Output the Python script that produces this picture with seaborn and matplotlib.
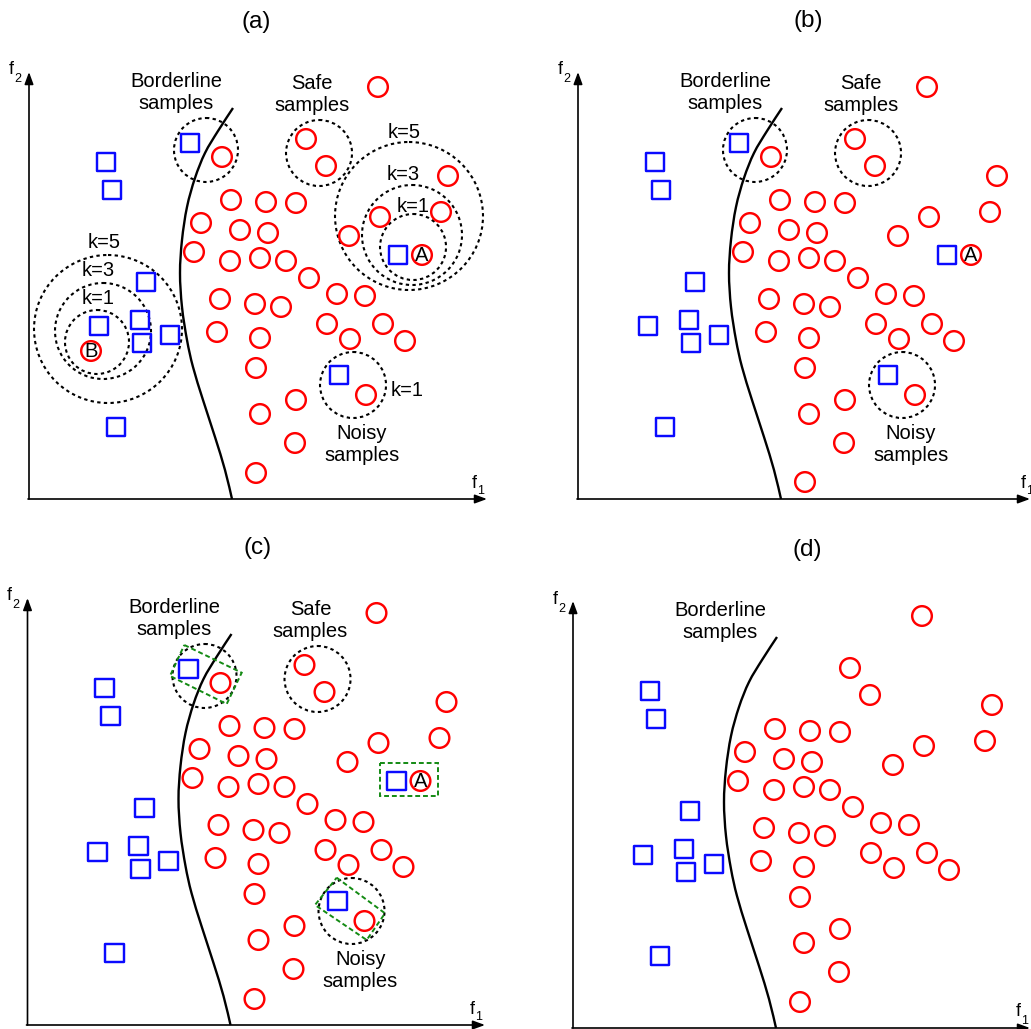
import numpy as np
import pandas as pd
import matplotlib
matplotlib.use("Agg")
import matplotlib.pyplot as plt
import seaborn as sns
from matplotlib.patches import Circle, Polygon, PathPatch
from matplotlib.path import Path

# ---------------- data (panel-local coordinates, pixels, y downward) ----------------
RED_CORE_X = [378, 306, 326, 448, 441, 380, 349, 231, 266, 296, 201, 240, 268, 194, 230, 260, 286,
              309, 337, 365, 220, 255, 281, 327, 383, 350, 405, 217, 260, 256, 296, 260, 295, 256]
RED_CORE_Y = [87, 139, 166, 176, 212, 217, 236, 200, 202, 203, 223, 230, 233, 252, 261, 258, 261,
              278, 294, 296, 299, 304, 307, 324, 324, 339, 341, 332, 338, 368, 400, 414, 443, 473]
BLUE_CORE_X = [106, 112, 146, 99, 140, 142, 170, 116]
BLUE_CORE_Y = [162, 190, 282, 326, 320, 343, 335, 427]

# special samples: borderline pair, A pair, noisy pair
PAIR_NAMES = ["borderline", "A", "noisy"]
PAIR_BLUE_X = [190, 398, 339]
PAIR_BLUE_Y = [143, 255, 375]
PAIR_RED_X = [222, 422, 366]
PAIR_RED_Y = [157, 255, 395]
B_X, B_Y = [91], [351]

# dashed neighbourhood circles
REGION_CX = [206, 319, 353]
REGION_CY = [150, 153, 385]
REGION_R = [32, 33, 33]
KNN_A_CX, KNN_A_CY, KNN_A_R = [409, 412, 413], [216, 235, 247], [74, 50, 33]
KNN_B_CX, KNN_B_CY, KNN_B_R = [108, 103, 97], [329, 331, 342], [74, 48, 32]
K_LABELS = ["k=5", "k=3", "k=1", "k=5", "k=3", "k=1", "k=1"]
K_LABEL_X = [404, 403, 413, 104, 98, 98, 407]
K_LABEL_Y = [132, 175, 206, 243, 271, 299, 391]

# class boundary curve
CURVE_X = [233, 218, 205, 195, 187, 182, 180, 182, 187, 193, 203, 215, 225, 232]
CURVE_Y = [108, 131, 153, 178, 207, 240, 273, 307, 340, 367, 400, 437, 470, 499]

# green selection boxes in panel (c)
GREEN_BOXES = [
    [(185.8, 119), (243.2, 146.7), (228.2, 178), (171.5, 150)],
    [(338.2, 351.7), (386.5, 387.3), (368.2, 414), (316.5, 379)],
    [(381.5, 237), (439.5, 237), (439.5, 270), (381.5, 270)],
]

PANELS = ["a", "b", "c", "d"]
TITLES = ["(a)", "(b)", "(c)", "(d)"]
TITLE_XY = [(256, 22), (808, 21), (258, 548), (807, 550)]
OFFSETS = {"a": (0, 0), "b": (549, 0), "c": (-1.5, 526), "d": (544, 529)}
AXIS_X_END = {"a": 487, "b": 1030, "c": 485, "d": 1030}

# ---------------- style ----------------
sns.set_theme(style="white")
plt.rcParams["font.family"] = ["Liberation Sans", "DejaVu Sans"]
plt.rcParams["text.color"] = "black"

RED = "#ff0000"
BLUE = "#0a0aff"
GREEN = "#138a13"
FS = 14.5

fig = plt.figure(figsize=(10.31, 10.29), dpi=100)
ax = fig.add_axes([0, 0, 1, 1])


def smooth_path(xs, ys, ox, oy):
    pts = np.column_stack([np.asarray(xs, float) + ox, np.asarray(ys, float) + oy])
    verts, codes = [pts[0]], [Path.MOVETO]
    n = len(pts)
    for i in range(n - 1):
        p0 = pts[i - 1] if i > 0 else pts[i]
        p1, p2 = pts[i], pts[i + 1]
        p3 = pts[i + 2] if i + 2 < n else pts[i + 1]
        verts += [p1 + (p2 - p0) / 6, p2 - (p3 - p1) / 6, p2]
        codes += [Path.CURVE4] * 3
    return Path(verts, codes)


red_rows, blue_rows = [], []
for p in PANELS:
    ox, oy = OFFSETS[p]
    for x, y in zip(RED_CORE_X, RED_CORE_Y):
        if p == "b" and y == 473:
            y = 482
        red_rows.append((p, x + ox, y + oy))
    for x, y in zip(BLUE_CORE_X, BLUE_CORE_Y):
        blue_rows.append((p, x + ox, y + oy))
    if p in ("a", "b", "c"):
        for x, y in zip(PAIR_RED_X, PAIR_RED_Y):
            red_rows.append((p, x + ox, y + oy))
        for x, y in zip(PAIR_BLUE_X, PAIR_BLUE_Y):
            blue_rows.append((p, x + ox, y + oy))
    if p == "a":
        for x, y in zip(B_X, B_Y):
            red_rows.append((p, x + ox, y + oy))

red_df = pd.DataFrame(red_rows, columns=["panel", "x", "y"])
blue_df = pd.DataFrame(blue_rows, columns=["panel", "x", "y"])

sns.scatterplot(data=red_df, x="x", y="y", marker="o", s=200, color=RED,
                facecolor="none", edgecolor=RED, linewidth=1.75, ax=ax, zorder=4)
sns.scatterplot(data=blue_df, x="x", y="y", marker="s", s=185, color=BLUE,
                facecolor="none", edgecolor=BLUE, linewidth=1.75, ax=ax, zorder=4)
ax.set_xlim(0, 1031)
ax.set_ylim(1029, 0)
ax.axis("off")

dash = (0, (1.6, 1.6))
for p, title, (tx, ty) in zip(PANELS, TITLES, TITLE_XY):
    ox, oy = OFFSETS[p]
    # title
    ax.text(tx, ty, title, ha="center", va="center", fontsize=17.5)
    # axes with arrows
    x0, y0 = 29 + ox, 499 + oy
    arrow = dict(arrowstyle="-|>,head_length=0.6,head_width=0.22", lw=1.2, color="black",
                 shrinkA=0, shrinkB=0, mutation_scale=12)
    ax.annotate("", xy=(x0, 72 + oy), xytext=(x0, y0), arrowprops=arrow, zorder=3)
    ax.annotate("", xy=(AXIS_X_END[p], y0), xytext=(x0 - 1, y0), arrowprops=arrow, zorder=3)
    ax.text(11 + ox, 70 + oy, "f", ha="center", va="center", fontsize=13)
    ax.text(17.5 + ox, 79.5 + oy, "2", ha="center", va="center", fontsize=9)
    ax.text(474 + ox, 483 + oy, "f", ha="center", va="center", fontsize=13)
    ax.text(480.5 + ox, 491.5 + oy, "1", ha="center", va="center", fontsize=9)
    # boundary curve
    ax.add_patch(PathPatch(smooth_path(CURVE_X, CURVE_Y, ox, oy), fill=False,
                           lw=1.7, ec="black", zorder=3))
    # labels
    ax.text(176 + ox, 92.5 + oy, "Borderline\nsamples", ha="center", va="center",
            fontsize=FS, linespacing=1.25)
    if p in ("a", "b", "c"):
        ax.text(312 + ox, 94.5 + oy, "Safe\nsamples", ha="center", va="center",
                fontsize=FS, linespacing=1.25)
        ax.text(362 + ox, 444.5 + oy, "Noisy\nsamples", ha="center", va="center",
                fontsize=FS, linespacing=1.25)
        for cx, cy, r in zip(REGION_CX, REGION_CY, REGION_R):
            ax.add_patch(Circle((cx + ox, cy + oy), r, fill=False, ec="black",
                                lw=1.5, ls=dash, zorder=2))
        ax.text(PAIR_RED_X[1] + ox, PAIR_RED_Y[1] + oy + 0.5, "A", ha="center",
                va="center", fontsize=FS, zorder=5)
    if p == "a":
        for cx, cy, r in zip(KNN_A_CX + KNN_B_CX, KNN_A_CY + KNN_B_CY, KNN_A_R + KNN_B_R):
            ax.add_patch(Circle((cx + ox, cy + oy), r, fill=False, ec="black",
                                lw=1.5, ls=dash, zorder=2))
        for lab, lx, ly in zip(K_LABELS, K_LABEL_X, K_LABEL_Y):
            ax.text(lx + ox, ly + oy, lab, ha="center", va="center", fontsize=FS)
        ax.text(B_X[0] + ox, B_Y[0] + oy + 0.5, "B", ha="center", va="center",
                fontsize=FS, zorder=5)
    if p == "c":
        for box in GREEN_BOXES:
            pts = [(x + ox, y + oy) for x, y in box]
            ax.add_patch(Polygon(pts, closed=True, fill=False, ec=GREEN, lw=1.4,
                                 ls=(0, (2.5, 1.5)), zorder=5))

fig.savefig("out.png", dpi=100)
